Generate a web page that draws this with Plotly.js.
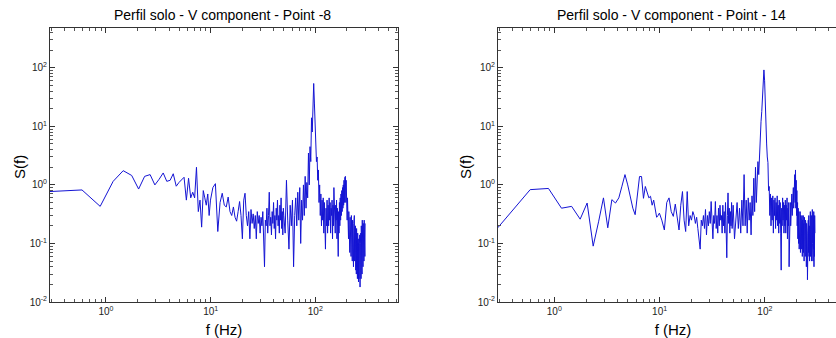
<!DOCTYPE html>
<html>
<head>
<meta charset="utf-8">
<script src="https://cdn.plot.ly/plotly-3.0.1.min.js"></script>
<style>
html,body{margin:0;padding:0;overflow:hidden;background:#fff;}
#chart{width:850px;height:338px;}
</style>
</head>
<body>
<div id="chart"></div>
<script>
// Frequency grid (Hz)
const freq = [
  0.29,0.59,0.88,1.17,1.46,1.76,2.05,2.34,2.64,2.93,
  3.22,3.52,3.81,4.1,4.39,4.69,4.98,5.27,5.57,5.86,
  6.15,6.45,6.74,7.03,7.32,7.62,7.91,8.2,8.5,8.79,
  9.08,9.38,9.67,9.96,
  10.5,11.1,11.7,12.3,12.9,13.5,14.1,14.7,15.3,15.9,
  16.5,17.1,17.7,18.3,18.9,19.5,20.1,20.7,21.3,21.9,
  22.5,23.1,23.7,24.3,24.9,25.5,26.1,26.7,27.3,27.9,
  28.5,29.1,29.7,30.3,30.9,31.5,32.1,32.7,33.3,33.9,
  34.5,35.1,35.7,36.3,36.9,37.5,38.1,38.7,39.3,39.9,
  40.5,41.1,41.7,42.3,42.9,43.5,44.1,44.7,45.3,45.9,
  46.5,47.1,47.7,48.3,48.9,49.5,
  50,51.5,53,54.5,56,57.5,59,60.5,62,63.5,
  65,66.5,68,69.5,71,72.5,74,75.5,77,78.5,
  80,81.5,83,84.5,86,87.5,89,90.5,92,93.5,
  95,96.5,98,99.5,101,102.5,104,105.5,107,108.5,
  110,111.5,113,114.5,116,117.5,119,120.5,122,123.5,
  125,126.5,128,129.5,131,132.5,134,135.5,137,138.5,
  140,141.5,143,144.5,146,147.5,149,150.5,152,153.5,
  155,156.5,158,159.5,161,162.5,164,165.5,167,168.5,
  170,171.5,173,174.5,176,177.5,179,180.5,182,183.5,
  185,186.5,188,189.5,191,192.5,194,195.5,197,198.5,
  200,201.5,203,204.5,206,207.5,209,210.5,212,213.5,
  215,216.5,218,219.5,221,222.5,224,225.5,227,228.5,
  230,231.5,233,234.5,236,237.5,239,240.5,242,243.5,
  245,246.5,248,249.5,251,252.5,254,255.5,257,258.5,
  260,261.5,263,264.5,266,267.5,269,270.5,272,273.5,
  275,276.5,278,279.5,281,282.5,284,285.5,287,288.5,
  290,291.5,293,294.5,296,297.5,299
];

// S(f) at Point -8
const sPoint8 = [
  0.77,0.82,0.43,1.15,1.75,1.45,0.85,1.4,1.5,1.0,
  1.25,1.6,1.15,1.2,1.55,0.95,1.1,1.2,1.35,0.55,
  1.3,0.6,0.75,0.6,2.0,0.35,0.55,0.19,0.8,0.6,
  0.45,0.7,0.3,0.55,
  0.9,1.05,0.16,0.5,0.72,0.45,0.42,0.62,0.35,0.3,
  0.42,0.28,0.24,0.35,0.52,0.3,0.12,0.55,0.72,0.3,
  0.2,0.35,0.12,0.38,0.22,0.32,0.18,0.3,0.12,0.35,
  0.22,0.3,0.15,0.28,0.2,0.35,0.1,0.04,0.25,0.2,
  0.4,0.15,0.3,0.75,0.2,0.28,0.14,0.35,0.22,0.5,
  0.18,0.3,0.12,0.4,0.25,0.55,0.2,0.3,0.15,0.45,
  0.25,0.6,0.18,0.35,0.14,0.4,
  0.3,0.15,1.2,0.25,0.08,0.45,0.2,0.55,0.04,0.3,
  0.6,0.2,0.75,0.25,0.9,0.1,0.55,0.25,1.0,0.3,
  1.4,0.4,1.1,0.6,3.5,1.0,4.5,2.5,14,8,
  35,54,25,9,5,2.5,3.0,1.2,1.8,0.5,
  1.0,0.3,0.7,0.2,0.55,0.25,0.6,0.15,0.5,0.1,
  0.08,0.4,0.2,0.55,0.15,0.45,0.2,0.6,0.25,0.5,
  0.15,0.4,0.3,0.55,0.12,0.45,0.2,0.9,0.3,0.5,
  0.15,0.45,0.25,0.55,0.12,0.4,0.2,0.06,0.35,0.15,
  0.5,0.2,0.6,0.25,0.7,0.3,0.8,0.35,0.9,0.4,
  1.0,0.45,1.2,0.5,1.35,0.55,1.4,0.5,1.2,0.35,
  0.8,0.25,0.6,0.18,0.45,0.12,0.35,0.1,0.3,0.07,
  0.28,0.1,0.25,0.06,0.3,0.08,0.22,0.05,0.25,0.07,
  0.2,0.04,0.22,0.06,0.3,0.05,0.18,0.04,0.2,0.035,
  0.15,0.03,0.18,0.04,0.12,0.025,0.15,0.03,0.1,0.022,
  0.12,0.025,0.1,0.02,0.14,0.018,0.1,0.03,0.15,0.025,
  0.2,0.04,0.12,0.03,0.25,0.05,0.15,0.04,0.22,0.06,
  0.18,0.05,0.25,0.07,0.2,0.06,0.22
];

// S(f) at Point - 14
const sPoint14 = [
  0.185,0.83,0.87,0.40,0.43,0.26,0.49,0.09,0.24,0.6,
  0.185,0.56,0.49,0.6,0.95,1.5,1.0,0.6,0.4,0.31,
  0.6,1.39,1.39,0.59,0.94,0.73,0.6,0.64,0.45,0.55,
  0.4,0.28,0.3,0.33,
  0.25,0.17,0.5,0.6,0.35,0.29,0.47,0.3,0.17,0.45,
  0.77,0.25,0.16,0.77,0.2,0.3,0.25,0.35,0.3,0.22,
  0.28,0.18,0.12,0.08,0.25,0.2,0.3,0.18,0.38,0.14,
  0.3,0.2,0.35,0.22,0.52,0.2,0.12,0.3,0.22,0.52,
  0.18,0.3,0.15,0.4,0.2,0.45,0.25,0.3,0.15,0.45,
  0.2,0.35,0.15,0.5,0.2,0.057,0.3,0.73,0.22,0.4,
  0.15,0.35,0.2,0.5,0.18,0.3,
  0.45,0.12,0.3,0.5,0.18,0.4,0.15,0.55,0.2,1.5,
  0.2,0.55,0.15,0.6,0.25,0.5,0.14,0.65,0.3,1.3,
  0.35,2.0,0.5,1.0,2.5,1.5,3.5,6,12,18,
  28,45,92,60,20,8,5,3,2.4,0.8,
  0.94,0.3,0.7,0.2,0.6,0.25,0.65,0.15,0.55,0.3,
  0.6,0.18,0.5,0.25,0.65,0.2,0.45,0.15,0.55,0.22,
  0.5,0.15,0.035,0.4,0.2,0.6,0.25,0.5,0.15,0.45,
  0.2,0.55,0.15,0.45,0.25,0.6,0.12,0.4,0.2,0.5,
  0.04,0.35,0.18,0.5,0.2,0.6,0.25,0.7,0.3,0.8,
  0.35,0.9,0.4,1.2,0.45,1.5,0.5,1.8,0.4,1.2,
  0.3,0.8,0.2,0.5,0.12,0.4,0.1,0.35,0.08,0.3,
  0.1,0.35,0.07,0.3,0.12,0.25,0.08,0.3,0.06,0.25,
  0.1,0.3,0.07,0.22,0.05,0.28,0.09,0.2,0.06,0.25,
  0.08,0.2,0.04,0.22,0.06,0.15,0.024,0.2,0.05,0.25,
  0.07,0.3,0.06,0.2,0.05,0.25,0.08,0.35,0.06,0.22,
  0.09,0.3,0.05,0.2,0.07,0.38,0.1,0.25,0.05,0.3,
  0.08,0.35,0.04,0.25,0.06,0.3,0.15
];

const titles = ['Perfil solo - V component - Point -8', 'Perfil solo - V component - Point - 14'];
const xTitle = 'f (Hz)';
const yTitle = 'S(f)';
const xTickVals = [1, 10, 100];
const xTickText = ['10<sup>0</sup>', '10<sup>1</sup>', '10<sup>2</sup>'];
const yTickVals = [0.01, 0.1, 1, 10, 100];
const yTickText = ['10<sup>-2</sup>', '10<sup>-1</sup>', '10<sup>0</sup>', '10<sup>1</sup>', '10<sup>2</sup>'];

const W = 850, H = 338;
const FAM = 'Liberation Sans, Arial, sans-serif';

function minorVals(lo, hi) {
  const v = [];
  for (let e = lo; e <= hi; e++) for (let m = 2; m <= 9; m++) v.push(m * Math.pow(10, e));
  return v;
}

function xAxis(anchor, left, right) {
  return {
    type: 'log', range: [-0.535, 2.79], domain: [left / W, right / W], anchor: anchor,
    tickmode: 'array', tickvals: xTickVals, ticktext: xTickText,
    ticks: 'inside', ticklen: 5, tickwidth: 1, tickcolor: '#333',
    minor: {tickmode: 'array', tickvals: minorVals(-1, 2), ticks: 'inside', ticklen: 3, tickcolor: '#555', showgrid: false},
    showline: true, linecolor: '#333', linewidth: 1, mirror: 'ticks',
    showgrid: false, zeroline: false,
    tickfont: {family: FAM, size: 10, color: '#222'},
    title: {text: xTitle, font: {family: FAM, size: 15, color: '#000'}},
    automargin: false
  };
}
function yAxis(anchor) {
  return {
    type: 'log', range: [-2, 2.68], domain: [(H - 302) / H, (H - 28) / H], anchor: anchor,
    tickmode: 'array', tickvals: yTickVals, ticktext: yTickText,
    ticks: 'inside', ticklen: 5, tickwidth: 1, tickcolor: '#333',
    minor: {tickmode: 'array', tickvals: minorVals(-2, 2), ticks: 'inside', ticklen: 3, tickcolor: '#555', showgrid: false},
    showline: true, linecolor: '#333', linewidth: 1, mirror: 'ticks',
    showgrid: false, zeroline: false,
    tickfont: {family: FAM, size: 10, color: '#222'},
    automargin: false
  };
}

const lineStyle = {color: '#1414d4', width: 1};
const data = [
  {x: freq, y: sPoint8, type: 'scatter', mode: 'lines', line: lineStyle, xaxis: 'x', yaxis: 'y'},
  {x: freq, y: sPoint14, type: 'scatter', mode: 'lines', line: lineStyle, xaxis: 'x2', yaxis: 'y2'}
];

function ann(text, xpx, ypx, size, angle) {
  return {text: text, xref: 'paper', yref: 'paper', x: xpx / W, y: 1 - ypx / H,
          xanchor: 'center', yanchor: 'middle', showarrow: false, textangle: angle || 0,
          font: {family: FAM, size: size, color: '#000'}};
}

const layout = {
  width: W, height: H,
  margin: {l: 0, r: 0, t: 0, b: 0},
  paper_bgcolor: '#fff', plot_bgcolor: '#fff',
  showlegend: false, font: {family: FAM, color: '#000'},
  xaxis: xAxis('y', 50, 398),
  yaxis: yAxis('x'),
  xaxis2: xAxis('y2', 498, 848),
  yaxis2: yAxis('x2'),
  annotations: [
    ann(titles[0], 222, 15, 14),
    ann(titles[1], 671, 15, 14),
    ann(yTitle, 19, 167, 15, -90),
    ann(yTitle, 465, 167, 15, -90)
  ]
};

Plotly.newPlot('chart', data, layout, {staticPlot: true, displayModeBar: false});
</script>
</body>
</html>
